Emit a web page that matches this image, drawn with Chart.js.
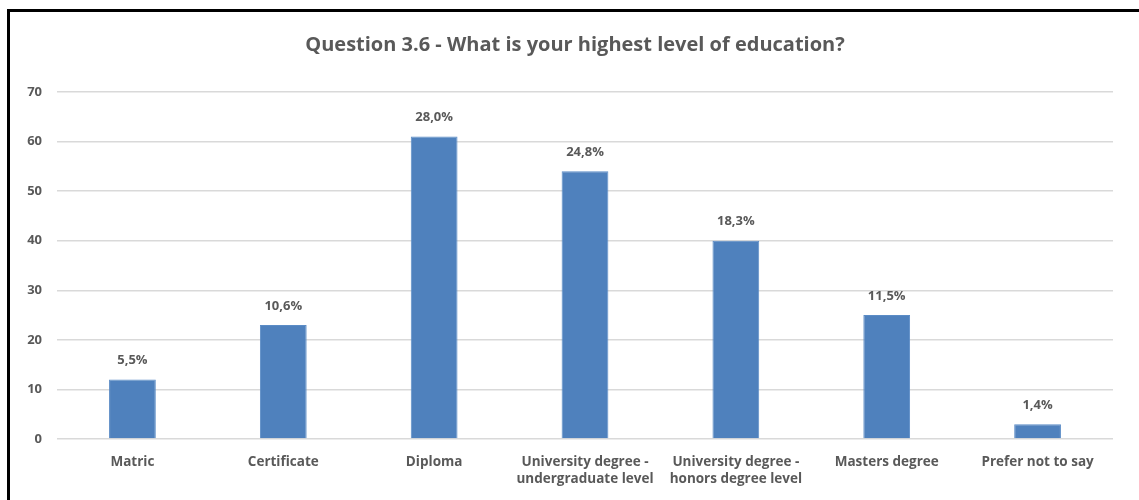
<!DOCTYPE html>
<html>
<head>
<meta charset="utf-8">
<script src="https://cdn.jsdelivr.net/npm/chart.js@4.4.1/dist/chart.umd.min.js"></script>
<style>
  html, body { margin: 0; padding: 0; background: #fff; overflow: hidden; }
  #wrap { position: relative; width: 1139px; height: 500px; }
  #frame { position: absolute; left: 7px; top: 9px; width: 1200px; height: 600px;
           border: 3px solid #000; pointer-events: none; box-sizing: border-box; }
</style>
</head>
<body>
<div id="wrap">
  <canvas id="myChart" width="1139" height="500"></canvas>
  <div id="frame"></div>
</div>
<script>
// data
var titulo = 'Question 3.6 - What is your highest level of education?';
var categorias = [
    'Matric',
    'Certificate',
    'Diploma',
    ['University degree -', 'undergraduate level'],
    ['University degree -', 'honors degree level'],
    'Masters degree',
    'Prefer not to say'
];
var respostas = [12, 23, 61, 54, 40, 25, 3];
var percentuais = ['5,5%', '10,6%', '28,0%', '24,8%', '18,3%', '11,5%', '1,4%'];
var yTicks = [0, 10, 20, 30, 40, 50, 60, 70];

var corTexto = '#595959';
var fonte = '"Open Sans", "Liberation Sans", Arial, sans-serif';

// title centred on the framed box, percentages above each bar
var textosExtras = {
    id: 'textosExtras',
    afterDatasetsDraw: function (chart) {
        var ctx = chart.ctx;
        var meta = chart.getDatasetMeta(0);
        ctx.save();
        ctx.fillStyle = corTexto;
        ctx.textAlign = 'center';

        ctx.font = 'bold 20px ' + fonte;
        ctx.textBaseline = 'alphabetic';
        ctx.fillText(titulo, 575, 51);

        ctx.font = 'bold 13px ' + fonte;
        ctx.textBaseline = 'middle';
        meta.data.forEach(function (bar, i) {
            ctx.fillText(percentuais[i], bar.x, bar.y - 19);
        });
        ctx.restore();
    }
};

var ctx = document.getElementById('myChart').getContext('2d');
var myChart = new Chart(ctx, {
    type: 'bar',
    data: {
        labels: categorias,
        datasets: [{
            data: respostas,
            backgroundColor: '#4f81bd',
            borderColor: '#5b8cc6',
            borderWidth: 1,
            categoryPercentage: 1,
            barPercentage: 0.31
        }]
    },
    options: {
        responsive: false,
        animation: false,
        devicePixelRatio: 1,
        layout: {
            padding: { left: 0, right: 26, top: 92, bottom: 0 }
        },
        plugins: {
            legend: { display: false },
            tooltip: { enabled: false },
            title: { display: false }
        },
        scales: {
            y: {
                min: 0,
                max: 70,
                afterBuildTicks: function (scale) {
                    scale.ticks = yTicks.map(function (v) { return { value: v }; });
                },
                afterFit: function (scale) { scale.width = 57; },
                border: { display: false },
                grid: { color: '#d9d9d9', lineWidth: 1.5, drawTicks: false },
                ticks: {
                    color: corTexto,
                    padding: 15,
                    font: { family: fonte, size: 13, weight: 'bold' }
                }
            },
            x: {
                afterFit: function (scale) { scale.height = 61; },
                border: { display: false },
                grid: { display: false, drawTicks: false },
                ticks: {
                    color: corTexto,
                    padding: 14,
                    maxRotation: 0,
                    autoSkip: false,
                    font: { family: fonte, size: 13.5, weight: 'bold', lineHeight: 1.3 }
                }
            }
        }
    },
    plugins: [textosExtras]
});
</script>
</body>
</html>
